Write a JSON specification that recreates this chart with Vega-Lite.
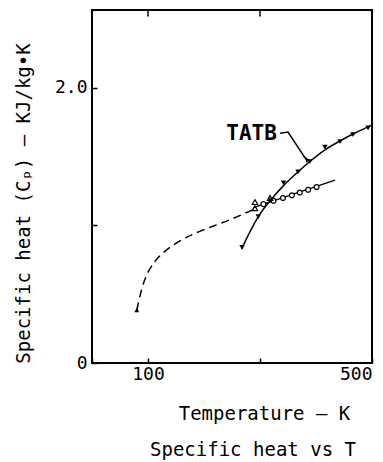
{
  "$schema": "https://vega.github.io/schema/vega-lite/v6.json",
  "autosize": "none",
  "width": 280,
  "height": 353,
  "padding": {"left": 92, "top": 10, "right": 11, "bottom": 99},
  "background": "white",
  "config": {
    "view": {"stroke": "black", "strokeWidth": 2},
    "font": "DejaVu Sans Mono",
    "axis": {"grid": false, "domain": false, "tickColor": "black", "tickWidth": 1.5, "labelColor": "black", "titleColor": "black", "labelFont": "DejaVu Sans Mono", "titleFont": "DejaVu Sans Mono", "titleFontWeight": "normal"}
  },
  "title": {"text": "Specific heat vs T", "orient": "bottom", "anchor": "middle", "dx": 21, "offset": 18, "fontSize": 19, "fontWeight": "normal", "font": "DejaVu Sans Mono", "color": "black"},
  "datasets": {
    "tatb_line": [
      {"T": 267, "Cp": 0.83}, {"T": 297, "Cp": 1.065}, {"T": 320, "Cp": 1.19}, {"T": 342, "Cp": 1.29},
      {"T": 368, "Cp": 1.39}, {"T": 389, "Cp": 1.465}, {"T": 416, "Cp": 1.55}, {"T": 443, "Cp": 1.615},
      {"T": 466, "Cp": 1.665}, {"T": 500, "Cp": 1.73}
    ],
    "tatb_pts": [
      {"T": 268, "Cp": 0.84}, {"T": 297, "Cp": 1.065}, {"T": 320, "Cp": 1.18}, {"T": 342, "Cp": 1.31},
      {"T": 368, "Cp": 1.39}, {"T": 389, "Cp": 1.465}, {"T": 416, "Cp": 1.57}, {"T": 443, "Cp": 1.61},
      {"T": 466, "Cp": 1.66}, {"T": 493, "Cp": 1.71}
    ],
    "dashed": [
      {"T": 80, "Cp": 0.385}, {"T": 89, "Cp": 0.55}, {"T": 98, "Cp": 0.65}, {"T": 110, "Cp": 0.73},
      {"T": 124, "Cp": 0.795}, {"T": 145, "Cp": 0.86}, {"T": 166, "Cp": 0.91}, {"T": 193, "Cp": 0.96},
      {"T": 223, "Cp": 1.005}, {"T": 252, "Cp": 1.05}, {"T": 276, "Cp": 1.095}, {"T": 294, "Cp": 1.125}
    ],
    "circ_line": [
      {"T": 288, "Cp": 1.13}, {"T": 434, "Cp": 1.33}
    ],
    "circ_pts": [
      {"T": 306, "Cp": 1.155}, {"T": 324, "Cp": 1.18}, {"T": 341, "Cp": 1.20}, {"T": 357, "Cp": 1.22},
      {"T": 371, "Cp": 1.24}, {"T": 386, "Cp": 1.26}, {"T": 401, "Cp": 1.28}
    ],
    "tri_open": [
      {"T": 291, "Cp": 1.17}, {"T": 291, "Cp": 1.125}, {"T": 318, "Cp": 1.2}
    ],
    "tri_start": [
      {"T": 80, "Cp": 0.385}
    ],
    "ticks": [
      {"T": 100, "Cp": 2.567, "Cp2": 2.52}, {"T": 300, "Cp": 2.567, "Cp2": 2.52}
    ],
    "leader": [
      {"T": 336, "Cp": 1.67, "o": 1}, {"T": 350, "Cp": 1.68, "o": 2}, {"T": 384, "Cp": 1.47, "o": 3}
    ],
    "arrow": [
      {"T": 384, "Cp": 1.47}
    ],
    "label": [
      {"T": 285, "Cp": 1.665, "text": "TATB"}
    ]
  },
  "encoding": {
    "x": {"field": "T", "type": "quantitative", "scale": {"domain": [0, 500], "nice": false, "zero": false},
      "axis": {"orient": "bottom", "values": [0, 100, 300, 500], "labelExpr": "datum.value == 0 || datum.value == 300 ? '' : datum.label", "tickSize": -5, "labelPadding": 7, "labelFontSize": 18, "title": "Temperature — K", "titleFontSize": 19, "titleX": 172, "titleY": 50, "titleAlign": "center", "titleBaseline": "middle"}},
    "y": {"field": "Cp", "type": "quantitative", "scale": {"domain": [0, 2.567], "nice": false},
      "axis": {"orient": "left", "values": [0, 1, 2], "labelExpr": "datum.value == 0 ? '0' : datum.value == 2 ? '2.0' : ''", "tickSize": -5, "labelPadding": 10, "labelFontSize": 18, "title": "Specific heat (Cₚ) — KJ/kg•K", "titleFontSize": 19, "titleX": -69, "titleY": 193, "titleAlign": "center", "titleBaseline": "middle", "titleAngle": 270}}
  },
  "layer": [
    {
      "data": {"name": "tatb_line"},
      "mark": {"type": "line", "color": "black", "strokeWidth": 1.5, "interpolate": "monotone"},
      "encoding": {}
    },
    {
      "data": {"name": "ticks"},
      "mark": {"type": "rule", "color": "black", "strokeWidth": 1.5},
      "encoding": {"y2": {"field": "Cp2"}}
    },
    {
      "data": {"name": "dashed"},
      "mark": {"type": "line", "color": "black", "strokeWidth": 1.5, "strokeDash": [8, 5], "interpolate": "basis"},
      "encoding": {}
    },
    {
      "data": {"name": "circ_line"},
      "mark": {"type": "line", "color": "black", "strokeWidth": 1.3},
      "encoding": {}
    },
    {
      "data": {"name": "tatb_pts"},
      "mark": {"type": "point", "shape": "triangle-down", "filled": true, "color": "black", "size": 30, "opacity": 1},
      "encoding": {}
    },
    {
      "data": {"name": "circ_pts"},
      "mark": {"type": "point", "shape": "circle", "filled": false, "color": "black", "fill": "white", "size": 24, "strokeWidth": 1.2, "opacity": 1},
      "encoding": {}
    },
    {
      "data": {"name": "tri_open"},
      "mark": {"type": "point", "shape": "triangle-up", "filled": false, "color": "black", "size": 30, "strokeWidth": 1.2, "opacity": 1},
      "encoding": {}
    },
    {
      "data": {"name": "tri_start"},
      "mark": {"type": "point", "shape": "triangle-up", "filled": true, "color": "black", "size": 25, "opacity": 1},
      "encoding": {}
    },
    {
      "data": {"name": "leader"},
      "mark": {"type": "line", "color": "black", "strokeWidth": 1.5},
      "encoding": {"order": {"field": "o", "type": "quantitative"}}
    },
    {
      "data": {"name": "arrow"},
      "mark": {"type": "point", "shape": "triangle-down", "filled": true, "color": "black", "size": 28, "angle": 30, "opacity": 1},
      "encoding": {}
    },
    {
      "data": {"name": "label"},
      "mark": {"type": "text", "font": "DejaVu Sans Mono", "fontSize": 21, "fontWeight": "bold", "color": "black", "align": "center", "baseline": "middle"},
      "encoding": {"text": {"field": "text", "type": "nominal"}}
    }
  ]
}
